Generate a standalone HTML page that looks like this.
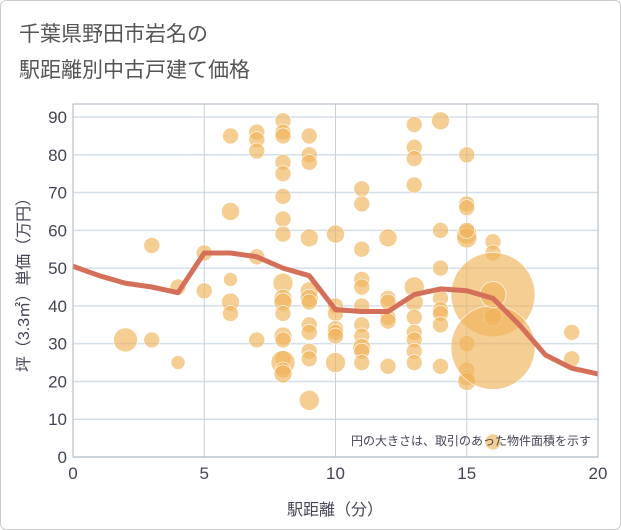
<!DOCTYPE html>
<html><head><meta charset="utf-8"><style>
body{margin:0;background:#fff}
#wrap{width:619px;height:528px;border:1px solid #ccc;border-radius:6px;position:relative;overflow:hidden;background:#fff}
text{font-family:"Liberation Sans","Noto Sans CJK JP",sans-serif}
</style></head><body>
<div id="wrap">
<svg id="svg" width="621" height="530">
<text x="18" y="40" font-size="21" fill="#555">千葉県野田市岩名の</text>
<text x="18" y="76" font-size="21" fill="#555">駅距離別中古戸建て価格</text>
<g id="grid"></g><g id="bubbles"></g><g id="line"></g><g id="axes"></g>
<text x="590" y="444" font-size="12" fill="#445" text-anchor="end">円の大きさは、取引のあった物件面積を示す</text>
<text x="334" y="514" font-size="16" fill="#445" text-anchor="middle">駅距離（分）</text>
<text transform="translate(28,280) rotate(-90)" font-size="16" fill="#445" text-anchor="middle">坪（3.3㎡）単価（万円）</text>
</svg></div>
<script>
const xTicks=[0,5,10,15,20];
const yTicks=[0,10,20,30,40,50,60,70,80,90];
const lineX=[0,1,2,3,4,5,6,7,8,9,10,11,12,13,14,15,16,17,18,19,20];
const lineY=[50.5,48,46,45,43.5,54,54,53,50,48,39,38.5,38.5,43,44.5,44,42,35,27,23.5,22];
const bubX=[2,3,3,4,4,5,5,6,6,6,6,6,7,7,7,7,7,8,8,8,8,8,8,8,8,8,8,8,8,8,8,8,8,8,8,9,9,9,9,9,9,9,9,9,9,9,9,10,10,10,10,10,10,10,11,11,11,11,11,11,11,11,11,11,11,12,12,12,12,12,12,13,13,13,13,13,13,13,13,13,13,13,14,14,14,14,14,14,14,14,15,15,15,15,15,15,15,15,15,15,16,16,16,16,16,16,16,16,19,19,20,20];
const bubY=[31,31,56,25,45,54,44,85,65,47,41,38,86,84,81,53,31,89,86,85,78,75,69,63,59,46,42,41,38,32,31,26,25,23,22,85,80,78,58,44,42,41,35,33,28,26,15,59,40,38,34,33,32,25,71,67,55,47,45,40,35,32,29,28,25,58,42,41,37,36,24,88,82,72,45,41,37,33,31,28,25,79,60,50,42,39,38,35,24,89,80,67,66,59,58,30,23,21,20,60,57,54,43,38,37,29,43,4,26,33,7];
const bubR=[12,8,8,7,8,8,8,8,9,7,9,8,8,8,8,8,8,8,8,8,8,8,8,8,8,10,9,9,8,9,8,8,12,8,9,8,8,8,9,9,9,8,8,8,8,8,10,9,8,8,8,8,8,10,8,8,8,8,8,8,8,8,9,8,8,9,8,8,8,8,8,8,8,8,10,9,8,8,8,8,8,8,8,8,8,8,8,8,8,9,8,8,8,10,10,8,8,8,9,8,8,8,42,9,9,42,13,8,8,8];
const L=72,R=597,T=103,B=456;
const sx=v=>L+(v-0)/20*(R-L), sy=v=>B-v/90*(B-116);
const NS="http://www.w3.org/2000/svg";
function mk(t,a,p){const e=document.createElementNS(NS,t);for(const k in a)e.setAttribute(k,a[k]);p.appendChild(e);return e;}
const g=document.getElementById('grid');
yTicks.forEach(v=>{const l=mk('line',{x1:L,x2:R,y1:sy(v),y2:sy(v),stroke:'#d5dfe9','stroke-width':1.5},g);

const t=mk('text',{x:L-6,y:sy(v)+6,'font-size':17,fill:'#445','text-anchor':'end'},document.getElementById('axes'));t.textContent=v;
});
xTicks.forEach(v=>{const l=mk('line',{x1:sx(v),x2:sx(v),y1:T,y2:B,stroke:'#c5d0dc','stroke-width':1},g);

const t=mk('text',{x:sx(v),y:B+22,'font-size':17,fill:'#445','text-anchor':'middle'},document.getElementById('axes'));t.textContent=v;
});
const fr=mk('rect',{x:L,y:T,width:R-L,height:B-T,fill:'none',stroke:'#a9b4c0','stroke-width':1},document.getElementById('axes'));

const bg=document.getElementById('bubbles');
bubX.forEach((x,i)=>{const c=mk('circle',{cx:sx(x),cy:sy(bubY[i]),r:bubR[i],fill:'rgba(240,180,90,0.65)',stroke:'#fff','stroke-width':0.6},bg);
});
const p=mk('polyline',{points:lineX.map((x,i)=>sx(x)+','+sy(lineY[i])).join(' '),fill:'none',stroke:'#d4705a','stroke-width':5,'stroke-linejoin':'round'},document.getElementById('line'));

</script></body></html>
